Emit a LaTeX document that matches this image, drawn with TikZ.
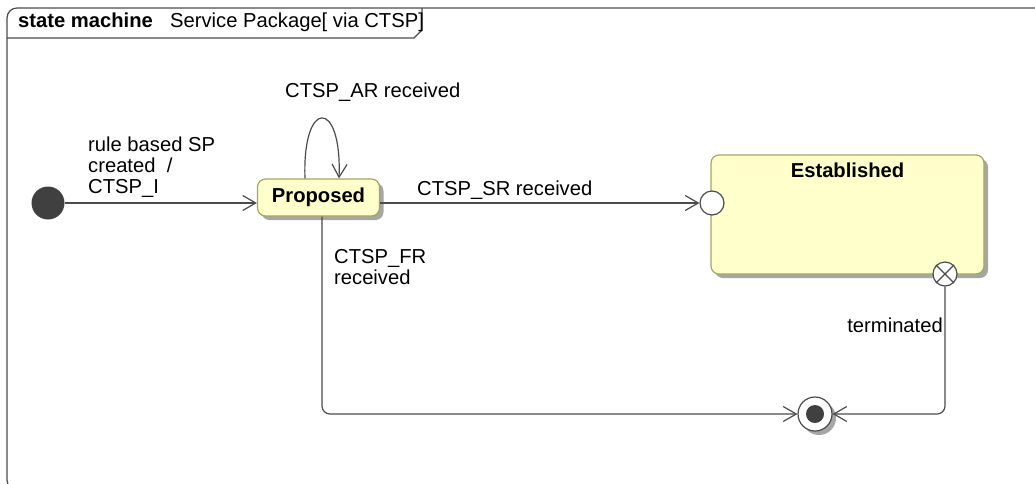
\documentclass[tikz,border=0pt]{standalone}
\usepackage{fontspec}
\setmainfont{Liberation Sans}
\usetikzlibrary{arrows.meta,shadows}
\definecolor{linegray}{RGB}{75,75,75}
\definecolor{stfill}{RGB}{255,255,204}
\definecolor{stborder}{RGB}{165,165,95}
\definecolor{dotgray}{RGB}{64,64,64}
\begin{document}
\begin{tikzpicture}[x=1pt,y=-1pt,
  font=\fontsize{20.2}{21}\selectfont,
  ln/.style={draw=linegray, line width=1.2pt},
  arr/.style={ln, -{Straight Barb[length=13pt,width=15pt,line width=1.2pt]}},
  stbox/.style={draw=stborder, fill=stfill, line width=1.2pt, rounded corners=8pt,
     inner sep=0pt, drop shadow={shadow xshift=4pt, shadow yshift=-4pt, fill=black!35, opacity=1}},
  lbl/.style={inner sep=0pt, align=left, anchor=north west},
  pt/.style={circle, draw=linegray, fill=white, line width=1.2pt, minimum size=24pt, inner sep=0pt}
]
\useasboundingbox (0,0) rectangle (1035,483);
\clip (0,0) rectangle (1035,483);
% frame
\draw[ln, rounded corners=10pt] (7,8) rectangle (1060,490);
\draw[ln] (7,38) -- (414,38) -- (422,30) -- (422,8);
\node[inner sep=0pt, anchor=north west, font=\fontsize{20.2}{21}\selectfont\bfseries] (t1) at (18,13) {state machine};
\node[inner sep=0pt, anchor=north west] (t2) at (170,13) {Service Package[ via CTSP]};

% states
\node[circle, fill=dotgray, minimum size=33pt, inner sep=0pt] (init) at (48,203) {};
\node[stbox, minimum width=122pt, minimum height=37pt, font=\fontsize{20.2}{21}\selectfont\bfseries] (prop) at (318.5,197.5) {Proposed};
\node[stbox, minimum width=273pt, minimum height=119pt] (est) at (847.5,214.5) {};
\node[inner sep=0pt, anchor=north, font=\fontsize{20.2}{21}\selectfont\bfseries] (estname) at (847.5,163) {Established};
\node[pt] (entry) at (712,203) {};
\node[pt] (exit) at (945,274) {};
\draw[ln] (exit.45) -- (exit.225) (exit.135) -- (exit.315);
\node[circle, draw=linegray, fill=white, line width=1.2pt, minimum size=34pt, inner sep=0pt,
  drop shadow={shadow xshift=4pt, shadow yshift=-4pt, fill=black!35, opacity=1}] (final) at (815,414) {};
\node[circle, fill=dotgray, minimum size=18pt, inner sep=0pt] (finaldot) at (final) {};

% transitions
\draw[arr] (init) -- (init -| prop.west);
\node[lbl] (l1) at (88,137) {rule based SP\\created\ \ /\\CTSP\_I};
\draw[arr] ([xshift=-13.5pt]prop.north) .. controls (302,98) and (342,98) .. ([xshift=20.5pt]prop.north);
\node[lbl] (l2) at (285,83) {CTSP\_AR received};
\draw[arr] (entry -| prop.east) -- (entry.west);
\node[lbl] (l3) at (417,181) {CTSP\_SR received};
\draw[arr, rounded corners=8pt] ([xshift=3.5pt]prop.south) |- (final.west);
\node[lbl] (l4) at (334,249) {CTSP\_FR\\received};
\draw[arr, rounded corners=8pt] (exit.south) |- (final.east);
\node[inner sep=0pt, anchor=base east] (l5) at (943,332) {terminated};
\end{tikzpicture}
\end{document}
